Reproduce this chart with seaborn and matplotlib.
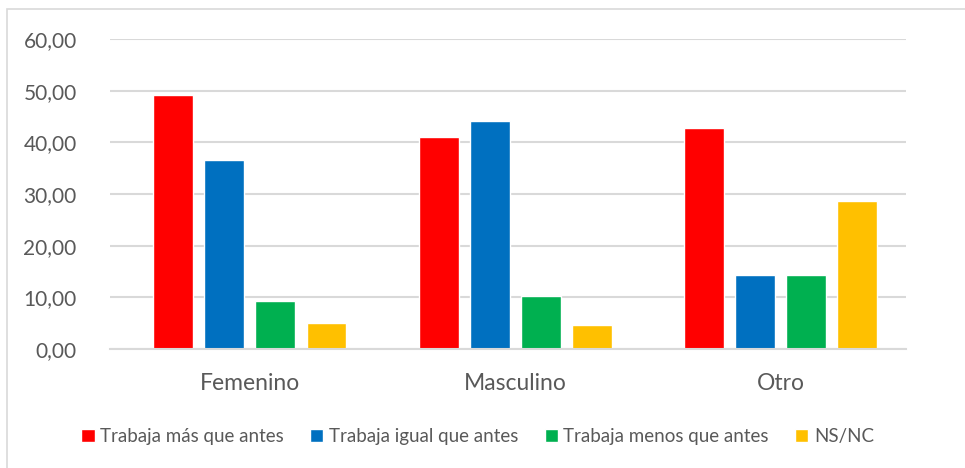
import pandas as pd
import matplotlib.pyplot as plt
import seaborn as sns
from matplotlib.patches import Rectangle

# Data
categorias = ['Femenino', 'Masculino', 'Otro']
series = ['Trabaja más que antes', 'Trabaja igual que antes',
          'Trabaja menos que antes', 'NS/NC']
mas = [49.2, 41.0, 42.86]
igual = [36.5, 44.1, 14.29]
menos = [9.2, 10.3, 14.29]
nsnc = [5.1, 4.6, 28.57]
colores = ['#FF0000', '#0070C0', '#00B050', '#FFC000']

rows = []
for s, vals in zip(series, [mas, igual, menos, nsnc]):
    for c, v in zip(categorias, vals):
        rows.append({'Genero': c, 'Serie': s, 'Valor': v})
df = pd.DataFrame(rows)

sns.set_style('white')
plt.rcParams['font.family'] = ['Lato', 'DejaVu Sans']
gris = '#595959'

fig = plt.figure(figsize=(9.65, 4.68), dpi=100)
ax = fig.add_axes([0.114, 0.2543, 0.825, 0.6624])

sns.barplot(data=df, x='Genero', y='Valor', hue='Serie', palette=colores,
            order=categorias, hue_order=series, width=0.77, gap=0.22,
            saturation=1, ax=ax)

ax.set_ylim(0, 60)
ax.set_yticks(range(0, 61, 10))
ax.set_yticklabels([f'{v},00' for v in range(0, 61, 10)])
ax.yaxis.grid(True, color='#d9d9d9', linewidth=1.5)
ax.set_axisbelow(True)
for sp in ['top', 'right', 'left']:
    ax.spines[sp].set_visible(False)
ax.spines['bottom'].set_color('#d9d9d9')
ax.spines['bottom'].set_linewidth(1.5)
ax.tick_params(axis='y', length=0, pad=24, labelsize=15, labelcolor=gris)
ax.tick_params(axis='x', length=0, pad=17, labelsize=16.5, labelcolor=gris)
ax.set_xlabel('')
ax.set_ylabel('')
ax.set_xlim(-0.527, 2.473)

ax.legend(loc='center', bbox_to_anchor=(0.495, 0.068),
          bbox_transform=fig.transFigure, ncol=4, frameon=False,
          fontsize=13.5, labelcolor=gris, handlelength=0.7, handleheight=0.7,
          handletextpad=0.3, columnspacing=1.4)

# outer chart border
fig.patches.append(Rectangle((7 / 965, -0.05), 1.0, 1 - 9 / 468 + 0.05,
                             transform=fig.transFigure, fill=False,
                             edgecolor='#d9d9d9', linewidth=1.2))

fig.savefig('out.png', dpi=100)
